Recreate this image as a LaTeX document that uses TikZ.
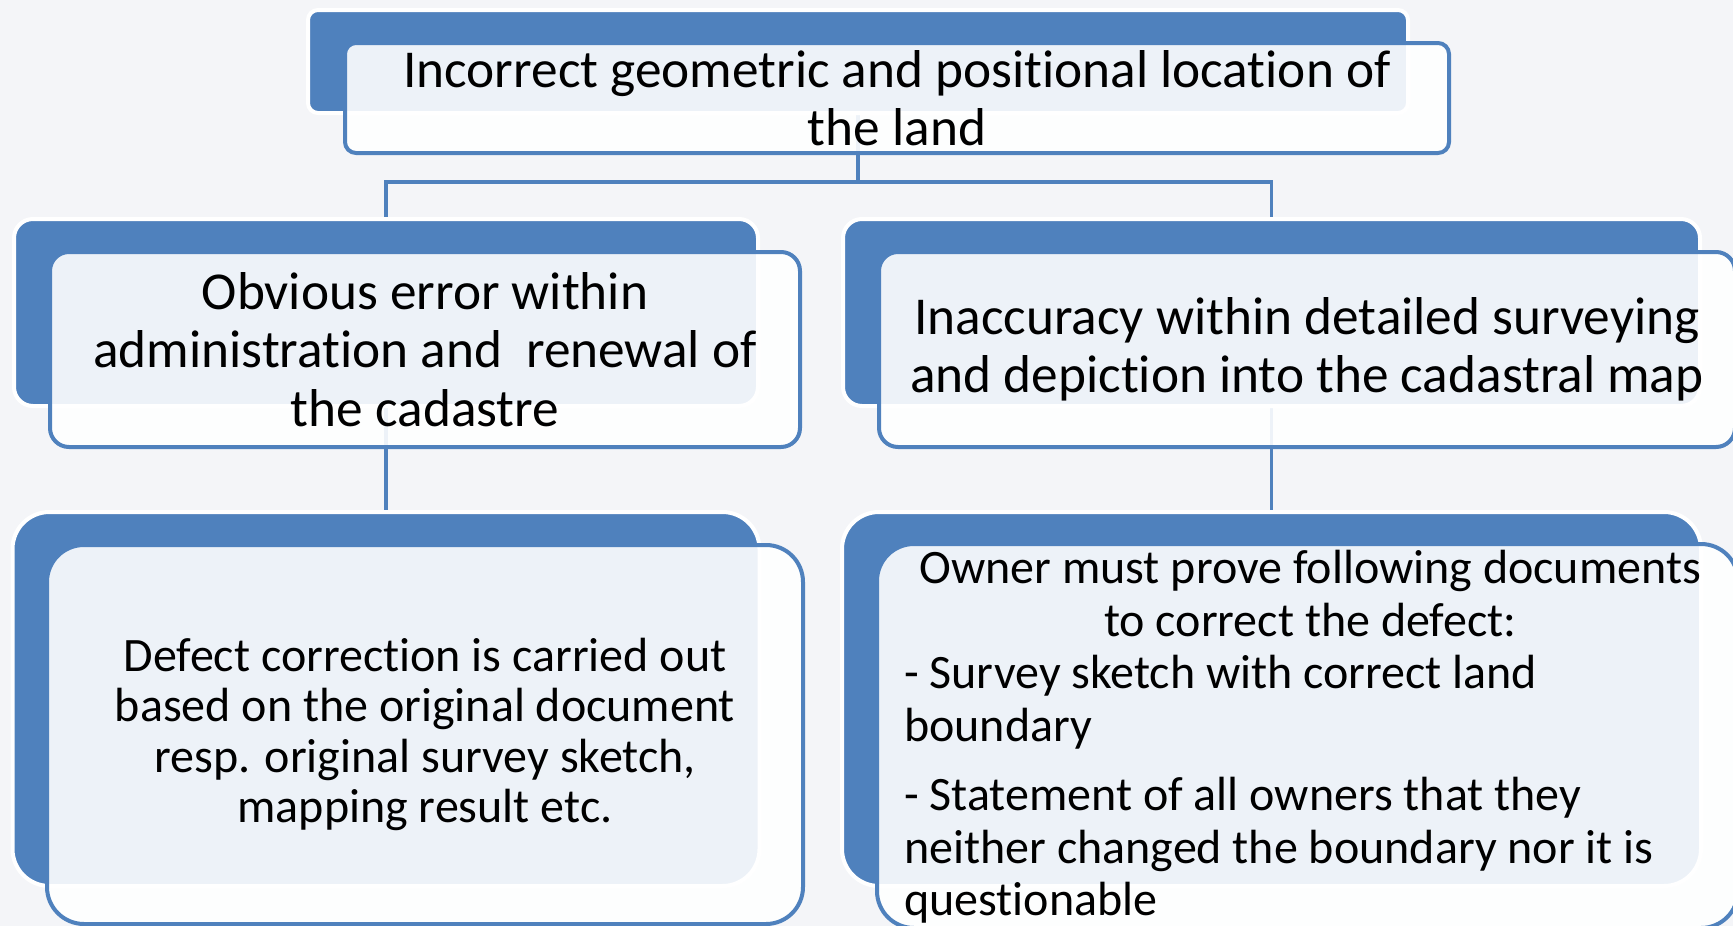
\documentclass[tikz,border=0pt]{standalone}
\usepackage{fontspec}
\setmainfont{Carlito}[Ligatures={NoCommon}]
\definecolor{bluebox}{RGB}{79,129,189}
\definecolor{bgcol}{RGB}{244,245,248}
\begin{document}
\begin{tikzpicture}[x=1pt,y=-1pt,
  backbox/.style={draw=white, line width=4pt, fill=bluebox, inner sep=0pt, outer sep=0pt},
  frontbox/.style={draw=bluebox, line width=4pt, fill=white, fill opacity=0.9, text opacity=1, inner sep=0pt, outer sep=0pt, align=center},
  conn/.style={draw=bluebox, line width=3.8pt},
  bigtext/.style={font=\fontsize{53.3}{58.5}\selectfont},
  smalltext/.style={font=\fontsize{48}{52.5}\selectfont},
  blltext/.style={font=\fontsize{48}{50.5}\selectfont}]
\fill[bgcol] (0,0) rectangle (1733,926);
\useasboundingbox (0,0) rectangle (1733,926);
% centres of the back boxes (connectors are drawn first, beneath the boxes)
\coordinate (bus) at (0,182);
\path (858,61.5) coordinate (tbc) (386,312.5) coordinate (mlbc) (1271.5,312.5) coordinate (mrbc)
      (386,699) coordinate (blbc) (1271.5,699) coordinate (brbc);
\draw[conn] (tbc) -- (tbc |- bus) -| (mlbc);
\draw[conn] (tbc |- bus) -| (mrbc);
\draw[conn] (mlbc) -- (blbc);
\draw[conn] (mrbc) -- (brbc);
% top
\node[backbox, rounded corners=10pt, minimum width=1100pt, minimum height=103pt] (tb) at (tbc) {};
\node[frontbox, bigtext, rounded corners=11pt, minimum width=1104pt, minimum height=110pt] (tf) at (897,98)
  {Incorrect geometric and positional location of\\the land};
% middle left
\node[backbox, rounded corners=19pt, minimum width=744pt, minimum height=187pt] (mlb) at (mlbc) {};
\node[frontbox, bigtext, rounded corners=19pt, minimum width=750pt, minimum height=195pt] (mlf) at (425,349.5)
  {Obvious error within\\administration and \ renewal of\\the cadastre};
% middle right
\node[backbox, rounded corners=19pt, minimum width=857pt, minimum height=187pt] (mrb) at (mrbc) {};
\node[frontbox, bigtext, rounded corners=19pt, minimum width=856pt, minimum height=195pt] (mrf) at (1307,349.5)
  {Inaccuracy within detailed surveying\\and depiction into the cadastral map};
% bottom left
\node[backbox, rounded corners=37pt, minimum width=747pt, minimum height=374pt] (blb) at (blbc) {};
\node[frontbox, blltext, rounded corners=37pt, minimum width=756pt, minimum height=379pt] (blf) at (425,734.5)
  {Defect correction is carried out\\based on the original document\\resp. original survey sketch,\\mapping result etc.};
% bottom right
\node[backbox, rounded corners=37pt, minimum width=859pt, minimum height=374pt] (brb) at (brbc) {};
\node[frontbox, rounded corners=37pt, minimum width=861pt, minimum height=384pt] (brf) at (1307.5,736) {};
\node[smalltext, anchor=north west, inner sep=0pt, align=left] (brt) at (904,550)
  {\makebox[812pt][c]{Owner must prove following documents}\\
   \makebox[812pt][c]{to correct the defect:}\\
   - Survey sketch with correct land\\
   boundary\\[17pt]
   - Statement of all owners that they\\
   neither changed the boundary nor it is\\
   questionable};
\end{tikzpicture}
\end{document}
